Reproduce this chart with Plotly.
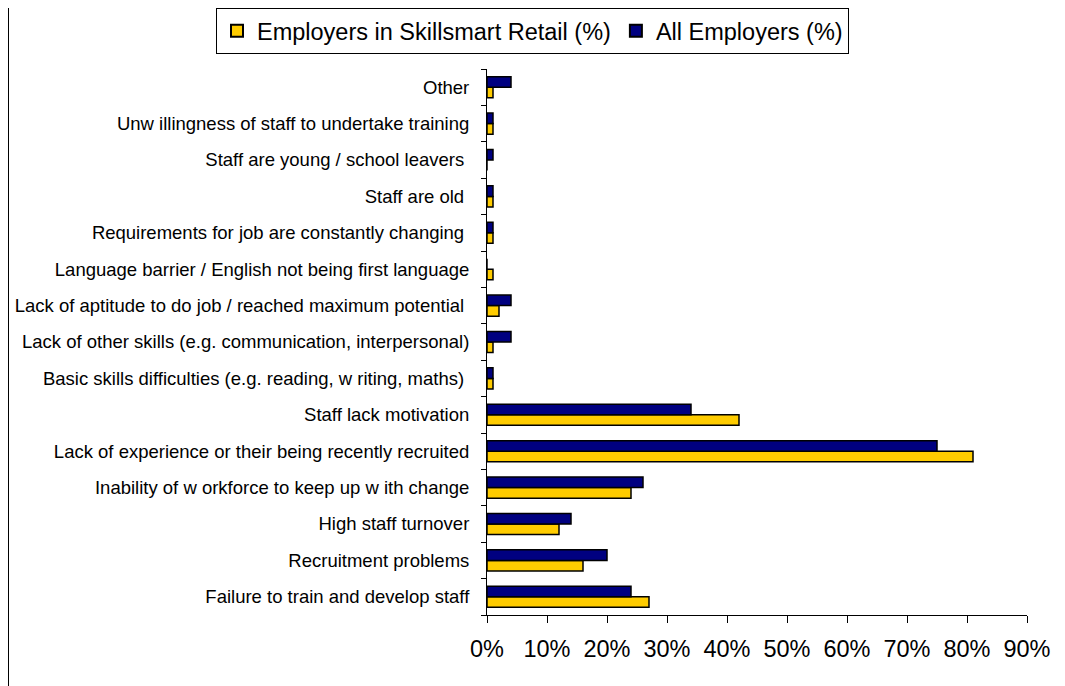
import plotly.graph_objects as go

# categories bottom -> top
categories = [
    "Failure to train and develop staff",
    "Recruitment problems",
    "High staff turnover",
    "Inability of w orkforce to keep up w ith change",
    "Lack of experience or their being recently recruited",
    "Staff lack motivation",
    "Basic skills difficulties (e.g. reading, w riting, maths) ",
    "Lack of other skills (e.g. communication, interpersonal)",
    "Lack of aptitude to do job / reached maximum potential ",
    "Language barrier / English not being first language",
    "Requirements for job are constantly changing ",
    "Staff are old ",
    "Staff are young / school leavers ",
    "Unw illingness of staff to undertake training",
    "Other",
]
skillsmart = [27, 16, 12, 24, 81, 42, 1, 1, 2, 1, 1, 1, 0, 1, 1]
all_employers = [24, 20, 14, 26, 75, 34, 1, 4, 4, 0, 1, 1, 1, 1, 4]
x_ticks = [0, 10, 20, 30, 40, 50, 60, 70, 80, 90]
x_labels = [f"{v}%" for v in x_ticks]

pos = list(range(len(categories)))

fig = go.Figure()
fig.add_trace(go.Bar(y=pos, x=skillsmart, orientation="h",
                     name="Employers in Skillsmart Retail (%)",
                     marker=dict(color="#FFCC00", line=dict(color="black", width=1.5))))
fig.add_trace(go.Bar(y=pos, x=all_employers, orientation="h",
                     name="All Employers (%)",
                     marker=dict(color="#000080", line=dict(color="black", width=1.5))))

# page body adds 8px offset, so margins are shifted to compensate
L, T, PW, PH = 479, 61, 540, 546
fig.update_layout(
    width=1065, height=686,
    margin=dict(l=L, r=1065 - L - PW, t=T, b=686 - T - PH, autoexpand=False),
    paper_bgcolor="white", plot_bgcolor="white",
    barmode="group", bargap=0.42, bargroupgap=0,
    font=dict(family="Arial, Liberation Sans", color="black"),
    # anchored left of the plot area so the horizontal legend is not wrapped
    legend=dict(orientation="h", x=(208 - L) / PW, xanchor="left",
                y=1 + T / PH, yanchor="top",
                bordercolor="black", borderwidth=1, font=dict(size=23.5),
                itemsizing="constant", traceorder="normal"),
    showlegend=True,
)
fig.update_xaxes(range=[0, 90], tickvals=x_ticks, ticktext=x_labels,
                 showline=True, linecolor="black", linewidth=1,
                 ticks="outside", ticklen=7, tickcolor="black",
                 showgrid=False, zeroline=False,
                 tickfont=dict(size=23.5), ticklabelstandoff=6)
fig.update_yaxes(range=[-0.5, len(categories) - 0.5], tickvals=pos, ticktext=categories,
                 showline=True, linecolor="black", linewidth=1,
                 ticks="", showgrid=False, zeroline=False,
                 tickfont=dict(size=18.5), ticklabelstandoff=13,
                 minor=dict(tick0=0.5, dtick=1, ticks="outside", ticklen=5, tickcolor="black",
                            showgrid=False))

# left frame line, at the very left edge of the figure
fig.add_shape(type="line", xref="paper", yref="paper",
              x0=(0.5 - L) / PW, x1=(0.5 - L) / PW, y0=-0.3, y1=1.3,
              line=dict(color="black", width=1))

fig.write_html("out.html")
